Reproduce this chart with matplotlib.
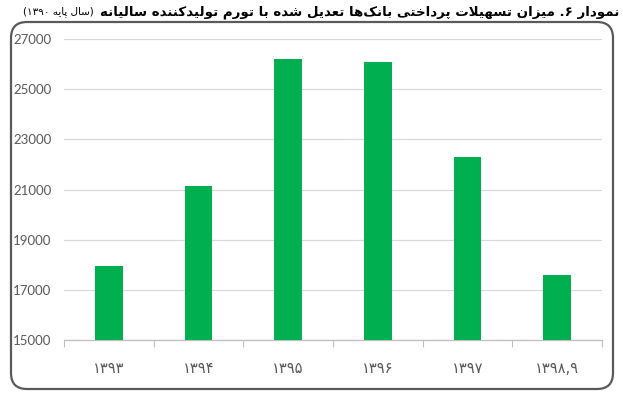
import matplotlib
matplotlib.use('Agg')
import matplotlib.pyplot as plt
from matplotlib.patches import FancyBboxPatch
from matplotlib.transforms import IdentityTransform

# ---------------- data ----------------
categories = ['۱۳۹۳', '۱۳۹۴', '۱۳۹۵', '۱۳۹۶', '۱۳۹۷', '۱۳۹۸,۹']
values = [17960, 21130, 26200, 26080, 22280, 17600]
y_ticks = [15000, 17000, 19000, 21000, 23000, 25000, 27000]
title_main = 'نمودار ۶. میزان تسهیلات پرداختی بانک\u200cها تعدیل شده با تورم تولیدکننده سالیانه'
title_note = '(سال پایه ۱۳۹۰)'

# ---------------- minimal Arabic/Persian shaping ----------------
FORMS = {
    '\u0627': ('\uFE8D', '\uFE8E', None, None),
    '\u0622': ('\uFE81', '\uFE82', None, None),
    '\u0628': ('\uFE8F', '\uFE90', '\uFE91', '\uFE92'),
    '\u067E': ('\uFB56', '\uFB57', '\uFB58', '\uFB59'),
    '\u062A': ('\uFE95', '\uFE96', '\uFE97', '\uFE98'),
    '\u062B': ('\uFE99', '\uFE9A', '\uFE9B', '\uFE9C'),
    '\u062C': ('\uFE9D', '\uFE9E', '\uFE9F', '\uFEA0'),
    '\u0686': ('\uFB7A', '\uFB7B', '\uFB7C', '\uFB7D'),
    '\u062D': ('\uFEA1', '\uFEA2', '\uFEA3', '\uFEA4'),
    '\u062E': ('\uFEA5', '\uFEA6', '\uFEA7', '\uFEA8'),
    '\u062F': ('\uFEA9', '\uFEAA', None, None),
    '\u0630': ('\uFEAB', '\uFEAC', None, None),
    '\u0631': ('\uFEAD', '\uFEAE', None, None),
    '\u0632': ('\uFEAF', '\uFEB0', None, None),
    '\u0698': ('\uFB8A', '\uFB8B', None, None),
    '\u0633': ('\uFEB1', '\uFEB2', '\uFEB3', '\uFEB4'),
    '\u0634': ('\uFEB5', '\uFEB6', '\uFEB7', '\uFEB8'),
    '\u0639': ('\uFEC9', '\uFECA', '\uFECB', '\uFECC'),
    '\u0641': ('\uFED1', '\uFED2', '\uFED3', '\uFED4'),
    '\u0642': ('\uFED5', '\uFED6', '\uFED7', '\uFED8'),
    '\u06A9': ('\uFB8E', '\uFB8F', '\uFB90', '\uFB91'),
    '\u06AF': ('\uFB92', '\uFB93', '\uFB94', '\uFB95'),
    '\u0644': ('\uFEDD', '\uFEDE', '\uFEDF', '\uFEE0'),
    '\u0645': ('\uFEE1', '\uFEE2', '\uFEE3', '\uFEE4'),
    '\u0646': ('\uFEE5', '\uFEE6', '\uFEE7', '\uFEE8'),
    '\u0648': ('\uFEED', '\uFEEE', None, None),
    '\u0647': ('\uFEE9', '\uFEEA', '\uFEEB', '\uFEEC'),
    '\u06CC': ('\uFBFC', '\uFBFD', '\uFBFE', '\uFBFF'),
}
DIGITS = set('۰۱۲۳۴۵۶۷۸۹0123456789')
MIRROR = {'(': ')', ')': '('}


def dual(c):
    f = FORMS.get(c)
    return f is not None and f[2] is not None


def joins_back(c):
    return c in FORMS


def shape(s):
    out = []
    i = 0
    n = len(s)
    while i < n:
        c = s[i]
        prev_j = i > 0 and dual(s[i - 1])
        if c == '\u0644' and i + 1 < n and s[i + 1] in ('\u0627', '\u0622'):
            out.append('\uFEFC' if prev_j else '\uFEFB')
            i += 2
            continue
        if c in FORMS:
            iso, fin, ini, med = FORMS[c]
            next_j = i + 1 < n and joins_back(s[i + 1])
            if ini is None:
                out.append(fin if prev_j else iso)
            else:
                if prev_j and next_j:
                    out.append(med)
                elif prev_j:
                    out.append(fin)
                elif next_j:
                    out.append(ini)
                else:
                    out.append(iso)
        elif c != '\u200c':
            out.append(c)
        i += 1
    return ''.join(out)


def visual(s):
    sh = shape(s)
    tokens = []
    i = 0
    while i < len(sh):
        if sh[i] in DIGITS:
            j = i
            while j < len(sh) and (sh[j] in DIGITS or
                                   (sh[j] in ',.' and j + 1 < len(sh) and sh[j + 1] in DIGITS)):
                j += 1
            tokens.append(sh[i:j])
            i = j
        else:
            tokens.append(MIRROR.get(sh[i], sh[i]))
            i += 1
    return ''.join(reversed(tokens))


# ---------------- figure ----------------
W, H = 623, 395
fig = plt.figure(figsize=(W / 100, H / 100), dpi=100)
ax = fig.add_axes([64 / W, 1 - 340 / H, (602 - 64) / W, (340 - 39) / H])

x = list(range(len(categories)))
ax.bar(x, values, width=0.31, color='#00B050', zorder=3)

ax.set_ylim(15000, 27000)
ax.set_xlim(-0.5, len(categories) - 0.5)
ax.set_yticks(y_ticks)
ax.set_yticklabels([str(v) for v in y_ticks], fontfamily='Lato', fontsize=9.5, color='#595959')
ax.grid(axis='y', color='#D9D9D9', linewidth=0.9, zorder=0)
ax.tick_params(axis='y', length=0, pad=9)

ax.set_xticks(x)
ax.set_xticklabels(categories, fontfamily='DejaVu Sans', fontsize=10.5, color='#595959')
ax.set_xticks([i - 0.5 for i in range(len(categories) + 1)], minor=True)
ax.tick_params(axis='x', which='major', length=0, pad=15)
ax.tick_params(axis='x', which='minor', length=5, color='#BFBFBF', width=0.8)

for side in ['top', 'right', 'left']:
    ax.spines[side].set_visible(False)
ax.spines['bottom'].set_color('#BFBFBF')
ax.spines['bottom'].set_linewidth(0.9)

# rounded frame
frame = FancyBboxPatch((11, H - 389), 613 - 11, 389 - 22,
                       boxstyle='round,pad=0,rounding_size=16',
                       transform=IdentityTransform(), fill=False,
                       edgecolor='#5A5A5A', linewidth=1.6, zorder=10)
fig.patches.append(frame)

# title
t_main = fig.text(619 / W, 1 - 12 / H, visual(title_main), ha='right', va='center',
                  fontfamily='DejaVu Sans', fontweight='bold', fontsize=9.6, color='#000000')
ax.annotate(visual(title_note), xy=(0, 0.5), xycoords=t_main,
            xytext=(-4, 0), textcoords='offset points',
            ha='right', va='center', fontfamily='DejaVu Sans',
            fontsize=7.5, color='#000000', annotation_clip=False)

fig.savefig('out.png', dpi=100)
